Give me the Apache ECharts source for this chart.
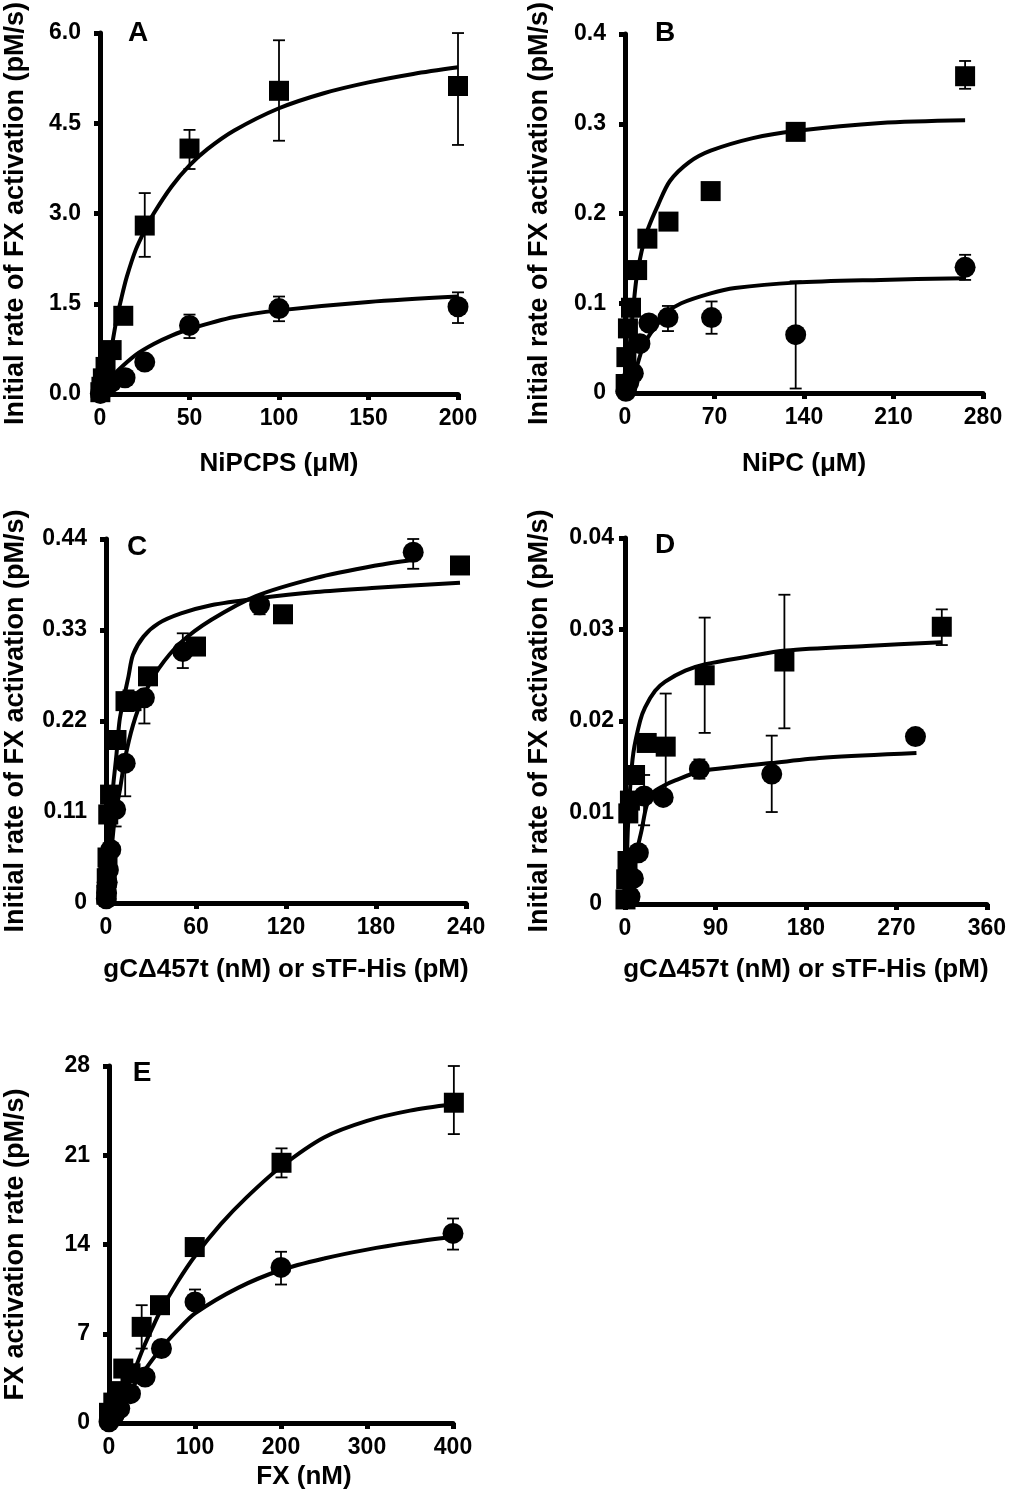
<!DOCTYPE html>
<html><head><meta charset="utf-8">
<script src="https://cdn.jsdelivr.net/npm/echarts@6/dist/echarts.min.js"></script>
<style>html,body{margin:0;padding:0;background:#fff}#c{width:1009px;height:1500px}</style>
</head><body><div id="c"></div><script>
// ---------- Panel A ----------
const aXTicks = ['0','50','100','150','200'];
const aYTicks = ['0.0','1.5','3.0','4.5','6.0'];
const aSqX = [0.2, 0.8, 1.6, 3.1, 6.5, 13, 25, 50, 100, 200];
const aSqY = [0.03, 0.12, 0.26, 0.45, 0.73, 1.3, 2.8, 4.08, 5.04, 5.12];
const aSqErr = [[25, 2.28, 3.34], [50, 3.74, 4.39], [100, 4.21, 5.88], [200, 4.14, 6.0]];
const aCiX = [0.2, 0.8, 1.6, 3.1, 6.5, 14, 25, 50, 100, 200];
const aCiY = [0.01, 0.04, 0.08, 0.13, 0.2, 0.27, 0.53, 1.14, 1.42, 1.45];
const aCiErr = [[50, 0.93, 1.32], [100, 1.21, 1.62], [200, 1.18, 1.69]];
const aFitSqX = [0, 3, 6, 9, 12, 15, 20, 25, 30, 40, 50, 60, 75, 100, 125, 150, 175, 200];
const aFitSqY = [0, 0.3, 0.7, 1.2, 1.6, 1.95, 2.4, 2.72, 3.0, 3.45, 3.8, 4.07, 4.38, 4.75, 5.0, 5.18, 5.32, 5.43];
const aFitCiX = [0, 5, 10, 20, 30, 40, 50, 75, 100, 150, 200];
const aFitCiY = [0, 0.22, 0.39, 0.65, 0.83, 0.97, 1.08, 1.28, 1.39, 1.53, 1.62];

// ---------- Panel B ----------
const bXTicks = ['0','70','140','210','280'];
const bYTicks = ['0','0.1','0.2','0.3','0.4'];
const bSqX = [0.5, 1.1, 2.3, 4.7, 9.5, 17.5, 34, 67, 133.5, 266];
const bSqY = [0.01, 0.04, 0.072, 0.095, 0.137, 0.172, 0.191, 0.225, 0.291, 0.353];
const bSqErr = [[266, 0.339, 0.37]];
const bCiX = [0.7, 1.5, 3, 6.5, 11.7, 18.7, 33.6, 67.7, 133.5, 266];
const bCiY = [0.002, 0.006, 0.012, 0.022, 0.055, 0.078, 0.084, 0.084, 0.065, 0.14];
const bCiErr = [[33.6, 0.069, 0.097], [67.7, 0.066, 0.102], [133.5, 0.005, 0.1245], [266, 0.126, 0.154]];
const bFitSqX = [1.3, 4, 6.5, 9, 13, 18, 26, 35, 50, 67, 100, 133, 200, 266];
const bFitSqY = [0, 0.058, 0.095, 0.128, 0.158, 0.183, 0.21, 0.236, 0.257, 0.27, 0.284, 0.292, 0.301, 0.304];
const bFitCiX = [3, 5, 8, 13, 18, 25, 33, 44, 67, 86, 133, 200, 266];
const bFitCiY = [0, 0.01, 0.023, 0.047, 0.062, 0.076, 0.09, 0.1, 0.111, 0.117, 0.123, 0.126, 0.128];

// ---------- Panel C ----------
const cXTicks = ['0','60','120','180','240'];
const cYTicks = ['0','0.11','0.22','0.33','0.44'];
const cSqX = [0.2, 0.5, 1, 1.5, 2.7, 7, 13, 17, 28, 60, 118, 236];
const cSqY = [0.01, 0.03, 0.055, 0.107, 0.131, 0.197, 0.244, 0.244, 0.274, 0.31, 0.349, 0.408];
const cSqErr = [[15, 0.232, 0.257]];
const cCiX = [0.2, 0.4, 0.8, 1.6, 3.2, 6.4, 12.8, 25.6, 51.2, 102.4, 204.8];
const cCiY = [0.005, 0.012, 0.025, 0.04, 0.0645, 0.113, 0.169, 0.248, 0.304, 0.3605, 0.424];
const cCiErr = [[204.8, 0.404, 0.44], [102.4, 0.349, 0.37], [51.2, 0.284, 0.326], [25.6, 0.217, 0.255], [12.8, 0.129, 0.169], [6.4, 0.0925, 0.12]];
const cFitSqX = [0.8, 2, 3, 4.7, 7, 9, 11.6, 15, 18, 25, 35, 50, 70, 100, 140, 180, 236];
const cFitSqY = [0, 0.06, 0.1, 0.14, 0.18, 0.22, 0.245, 0.274, 0.3, 0.322, 0.338, 0.35, 0.36, 0.368, 0.376, 0.381, 0.387];
const cFitCiX = [1, 3, 6, 9.3, 12.5, 18, 25, 35, 50, 70, 100, 140, 180, 205];
const cFitCiY = [0, 0.05, 0.105, 0.137, 0.173, 0.215, 0.25, 0.283, 0.315, 0.342, 0.371, 0.393, 0.408, 0.415];

// ---------- Panel D ----------
const dXTicks = ['0','90','180','270','360'];
const dYTicks = ['0','0.01','0.02','0.03','0.04'];
const dSqX = [0.5, 1.2, 2.5, 3.3, 4.9, 10, 21.6, 40.5, 79.3, 158.6, 315.2];
const dSqY = [0.0005, 0.0027, 0.0047, 0.0099, 0.0113, 0.0141, 0.0176, 0.0172, 0.025, 0.0265, 0.0303];
const dSqErr = [[315.2, 0.0283, 0.0322], [158.6, 0.0192, 0.0338], [79.3, 0.0187, 0.0313], [40.5, 0.0115, 0.023]];
const dCiX = [5, 8.3, 13.3, 19, 38, 74, 146, 289];
const dCiY = [0.0008, 0.0028, 0.0056, 0.0118, 0.01165, 0.01475, 0.0142, 0.0183];
const dCiErr = [[146, 0.01005, 0.0184], [74, 0.0137, 0.0158], [19, 0.0086, 0.0141]];
const dFitSqX = [1, 2.7, 5, 8.3, 15, 20, 30, 40, 60, 80, 120, 160, 240, 315];
const dFitSqY = [0, 0.0078, 0.0125, 0.0165, 0.02, 0.0215, 0.0233, 0.0243, 0.0255, 0.0262, 0.027, 0.0277, 0.0282, 0.0286];
const dFitCiX = [6, 8.3, 11.6, 16.6, 21.4, 28, 38, 50, 75, 110, 145, 200, 290];
const dFitCiY = [0, 0.0027, 0.0056, 0.0081, 0.0107, 0.0122, 0.0129, 0.0135, 0.0145, 0.015, 0.0154, 0.016, 0.0165];

// ---------- Panel E ----------
const eXTicks = ['0','100','200','300','400'];
const eYTicks = ['0','7','14','21','28'];
const eSqX = [0, 5, 10, 16.6, 25, 38, 59.3, 99.7, 200.6, 401];
const eSqY = [0.8, 1.6, 2.5, 4.27, 3.9, 7.54, 9.24, 13.8, 20.41, 25.12];
const eSqErr = [[38, 5.84, 9.24], [200.6, 19.26, 21.54], [401, 22.66, 28.0]];
const eCiX = [0, 6, 12.5, 25, 42, 61, 100, 200, 400];
const eCiY = [0.1, 0.6, 1.13, 2.3, 3.61, 5.84, 9.5, 12.2, 14.87];
const eCiErr = [[100, 8.9, 10.47], [200, 10.86, 13.43], [400, 13.6, 16.04]];
const eFitSqX = [0, 10, 20, 30, 40, 50, 60, 80, 100, 130, 160, 200, 250, 300, 350, 400];
const eFitSqY = [0, 1.2, 2.6, 4.2, 5.9, 7.4, 8.8, 11.1, 13.1, 15.6, 17.7, 20.1, 22.4, 23.7, 24.5, 25.0];
const eFitCiX = [0, 20, 40, 60, 80, 100, 150, 200, 250, 300, 350, 400];
const eFitCiY = [0, 2.1, 4.0, 5.8, 7.3, 8.6, 10.6, 12.0, 12.9, 13.6, 14.15, 14.6];

const yTitle = 'Initial rate of FX activation (pM/s)';
const FONT = '"Liberation Sans", Arial, sans-serif';

const panels = [
  {grid:{left:100, top:32, width:358, height:362}, xMax:200, xInt:50, yMax:6, yInt:1.5, xT:aXTicks, yT:aYTicks,
   xName:'NiPCPS (\u03bcM)', yName:yTitle, xGap:57, yGap:71, letter:'A', lx:138, ly:33,
   sq:[aSqX,aSqY], ci:[aCiX,aCiY], sqErr:aSqErr, ciErr:aCiErr, fSq:[aFitSqX,aFitSqY], fCi:[aFitCiX,aFitCiY]},
  {grid:{left:625, top:30, width:358, height:363}, xMax:280, xInt:70, yMax:0.4, yInt:0.1, xT:bXTicks, yT:bYTicks,
   xName:'NiPC (\u03bcM)', yName:yTitle, xGap:58, yGap:72, letter:'B', lx:665, ly:33,
   sq:[bSqX,bSqY], ci:[bCiX,bCiY], sqErr:bSqErr, ciErr:bCiErr, fSq:[bFitSqX,bFitSqY], fCi:[bFitCiX,bFitCiY]},
  {grid:{left:106, top:539, width:360, height:364}, xMax:240, xInt:60, yMax:0.44, yInt:0.11, xT:cXTicks, yT:cYTicks,
   xName:'gC\u0394457t (nM) or sTF-His (pM)', yName:yTitle, xGap:54, yGap:77, letter:'C', lx:137, ly:547,
   sq:[cSqX,cSqY], ci:[cCiX,cCiY], sqErr:cSqErr, ciErr:cCiErr, fSq:[cFitSqX,cFitSqY], fCi:[cFitCiX,cFitCiY]},
  {grid:{left:625, top:538, width:362, height:366}, xMax:360, xInt:90, yMax:0.04, yInt:0.01, xT:dXTicks, yT:dYTicks,
   xName:'gC\u0394457t (nM) or sTF-His (pM)', yName:yTitle, xGap:53, yGap:72, letter:'D', lx:665, ly:545,
   sq:[dSqX,dSqY], ci:[dCiX,dCiY], sqErr:dSqErr, ciErr:dCiErr, fSq:[dFitSqX,dFitSqY], fCi:[dFitCiX,dFitCiY], yMargin:11, zeroPad:12},
  {grid:{left:109, top:1066, width:344, height:357}, xMax:400, xInt:100, yMax:28, yInt:7, xT:eXTicks, yT:eYTicks,
   xName:'FX (nM)', yName:'FX activation rate (pM/s)', xGap:41, yGap:80, letter:'E', lx:142, ly:1073,
   sq:[eSqX,eSqY], ci:[eCiX,eCiY], sqErr:eSqErr, ciErr:eCiErr, fSq:[eFitSqX,eFitSqY], fCi:[eFitCiX,eFitCiY], xPad:[0,0,0,46]}
];

function zip(xs, ys) { return xs.map((x, i) => [x, ys[i]]); }

function errRender(params, api) {
  const x = api.value(0), lo = api.value(1), hi = api.value(2);
  const p1 = api.coord([x, lo]), p2 = api.coord([x, hi]);
  const w = 6;
  const style = {stroke:'#000', lineWidth:1.8};
  return {type:'group', children:[
    {type:'line', shape:{x1:p1[0], y1:p1[1], x2:p2[0], y2:p2[1]}, style:style},
    {type:'line', shape:{x1:p1[0]-w, y1:p1[1], x2:p1[0]+w, y2:p1[1]}, style:style},
    {type:'line', shape:{x1:p2[0]-w, y1:p2[1], x2:p2[0]+w, y2:p2[1]}, style:style}
  ]};
}

const option = {
  animation:false, backgroundColor:'#fff',
  grid:[], xAxis:[], yAxis:[], series:[], graphic:[]
};

panels.forEach((p, i) => {
  option.grid.push(Object.assign({containLabel:false}, p.grid));
  const axisLine = {show:true, onZero:false, lineStyle:{color:'#000', width:5}};
  const axisTick = {show:true, inside:false, length:6, lineStyle:{color:'#000', width:5}};
  const labelBase = {color:'#000', fontSize:23, fontWeight:'bold', fontFamily:FONT};
  option.xAxis.push({
    type:'value', gridIndex:i, min:0, max:p.xMax, interval:p.xInt,
    axisLine:axisLine, axisTick:axisTick, splitLine:{show:false},
    axisLabel:Object.assign({}, labelBase, {margin:13,
      formatter:(v) => p.xT[Math.round(v / p.xInt)]}),
    name:p.xName, nameLocation:'middle', nameGap:p.xGap,
    nameTextStyle:{color:'#000', fontSize:26, fontWeight:'bold', fontFamily:FONT, padding:p.xPad || 0}
  });
  option.yAxis.push({
    type:'value', gridIndex:i, min:0, max:p.yMax, interval:p.yInt,
    axisLine:axisLine, axisTick:axisTick, splitLine:{show:false},
    axisLabel:Object.assign({}, labelBase, {margin:p.yMargin || 19,
      rich:{z:Object.assign({}, labelBase, {padding:[0, p.zeroPad || 0, 0, 0]})},
      formatter:(v) => {
        const k = Math.round(v / p.yInt);
        return (k === 0 && p.zeroPad) ? '{z|' + p.yT[k] + '}' : p.yT[k];
      }}),
    name:p.yName, nameLocation:'middle', nameGap:p.yGap, nameRotate:90,
    nameTextStyle:{color:'#000', fontSize:27, fontWeight:'bold', fontFamily:FONT}
  });
  [p.fSq, p.fCi].forEach(f => {
    option.series.push({type:'line', xAxisIndex:i, yAxisIndex:i, data:zip(f[0], f[1]),
      showSymbol:false, symbol:'none', smooth:0.3,
      lineStyle:{color:'#000', width:4}, z:2, silent:true});
  });
  [p.sqErr, p.ciErr].forEach(e => {
    option.series.push({type:'custom', xAxisIndex:i, yAxisIndex:i, data:e,
      renderItem:errRender, encode:{x:0, y:[1,2]}, z:3, silent:true});
  });
  option.series.push({type:'scatter', xAxisIndex:i, yAxisIndex:i, data:zip(p.sq[0], p.sq[1]),
    symbol:'rect', symbolSize:20, itemStyle:{color:'#000', opacity:1}, z:4, clip:false, silent:true});
  option.series.push({type:'scatter', xAxisIndex:i, yAxisIndex:i, data:zip(p.ci[0], p.ci[1]),
    symbol:'circle', symbolSize:21, itemStyle:{color:'#000', opacity:1}, z:4, clip:false, silent:true});
  option.graphic.push({type:'text', x:p.lx, y:p.ly, z:10,
    style:{text:p.letter, fill:'#000', font:'bold 28px ' + FONT, align:'center', verticalAlign:'middle'}});
});

const chart = echarts.init(document.getElementById('c'), null, {renderer:'canvas'});
chart.setOption(option);
</script></body></html>
